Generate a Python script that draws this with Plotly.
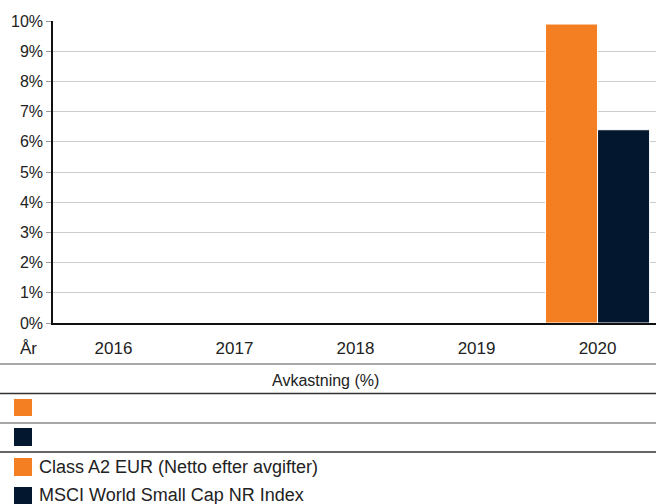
import plotly.graph_objects as go

years = ["2016", "2017", "2018", "2019", "2020"]
fund_values = [None, None, None, None, 9.9]
index_values = [None, None, None, None, 6.4]
fund_name = "Class A2 EUR (Netto efter avgifter)"
index_name = "MSCI World Small Cap NR Index"
y_ticks = [0, 1, 2, 3, 4, 5, 6, 7, 8, 9, 10]
table_title = "Avkastning (%)"
year_label = "År"

ORANGE = "#F47F22"
NAVY = "#03182E"
TEXT = "#222222"
FONT = "Liberation Sans, Arial, sans-serif"

W, H = 656, 504
L, R, T, B = 53, 0, 21, 181
PW = W - L - R
PH = H - T - B


def px_x(px):
    return (px - L) / PW


def px_y(py):
    return (H - B - py) / PH


fig = go.Figure()
fig.add_trace(go.Bar(x=years, y=fund_values, name=fund_name,
                     marker=dict(color=ORANGE, line=dict(color="white", width=1))))
fig.add_trace(go.Bar(x=years, y=index_values, name=index_name,
                     marker=dict(color=NAVY, line=dict(color="white", width=1))))

shapes = []
annotations = []

# table lines
for py, col in [(364, "#8a8a8a"), (393.5, "#333333"), (423, "#8a8a8a"), (452, "#333333")]:
    shapes.append(dict(type="line", xref="paper", yref="paper",
                       x0=px_x(0), x1=px_x(W), y0=px_y(py), y1=px_y(py),
                       line=dict(color=col, width=1.5)))

# squares (table rows and legend)
for (y0, y1), col in [((399, 416), ORANGE), ((428, 446), NAVY),
                      ((458, 476), ORANGE), ((487, 505), NAVY)]:
    shapes.append(dict(type="rect", xref="paper", yref="paper",
                       x0=px_x(14), x1=px_x(32), y0=px_y(y1), y1=px_y(y0),
                       fillcolor=col, line=dict(width=0)))

annotations.append(dict(text=year_label, xref="paper", yref="paper",
                        x=px_x(18), y=px_y(348), xanchor="left", yanchor="middle",
                        showarrow=False, font=dict(size=17, color=TEXT, family=FONT)))
annotations.append(dict(text=table_title, xref="paper", yref="paper",
                        x=px_x(325), y=px_y(380), xanchor="center", yanchor="middle",
                        showarrow=False, font=dict(size=16, color=TEXT, family=FONT)))

for vals, py in [(fund_values, 408), (index_values, 437)]:
    for yr, v in zip(years, vals):
        if v is None:
            continue
        annotations.append(dict(text=f"{v:.1f}".replace(".", ","), xref="x", yref="paper",
                                x=yr, y=px_y(py), xanchor="center", yanchor="middle",
                                xshift=7, showarrow=False,
                                font=dict(size=16.5, color=TEXT, family=FONT)))

for name, py in [(fund_name, 467), (index_name, 495)]:
    annotations.append(dict(text=name, xref="paper", yref="paper",
                            x=px_x(37), y=px_y(py), xanchor="left", yanchor="middle",
                            showarrow=False, font=dict(size=18, color=TEXT, family=FONT)))

fig.update_layout(
    width=W, height=H,
    margin=dict(l=L, r=R, t=T, b=B, pad=0),
    paper_bgcolor="white", plot_bgcolor="white",
    barmode="group", bargap=0.14, bargroupgap=0,
    showlegend=False,
    font=dict(family=FONT, size=16, color=TEXT),
    shapes=shapes, annotations=annotations,
    xaxis=dict(type="category", range=[-0.5, 4.483], showgrid=False,
               showline=True, linecolor="#111111", linewidth=2,
               ticks="", ticklabelstandoff=9,
               tickfont=dict(size=17, color=TEXT, family=FONT), fixedrange=True),
    yaxis=dict(range=[0, 10], tickvals=y_ticks, ticktext=[f"{t}%" for t in y_ticks],
               showgrid=True, gridcolor="#cccccc", gridwidth=1,
               showline=True, linecolor="#111111", linewidth=1.5,
               ticks="outside", ticklen=5, tickcolor="#999999", tickwidth=1,
               zeroline=False,
               tickfont=dict(size=16, color=TEXT, family=FONT), fixedrange=True),
)

fig.write_html("out.html", config={"displayModeBar": False},
               post_script="document.body.style.margin='0';")
